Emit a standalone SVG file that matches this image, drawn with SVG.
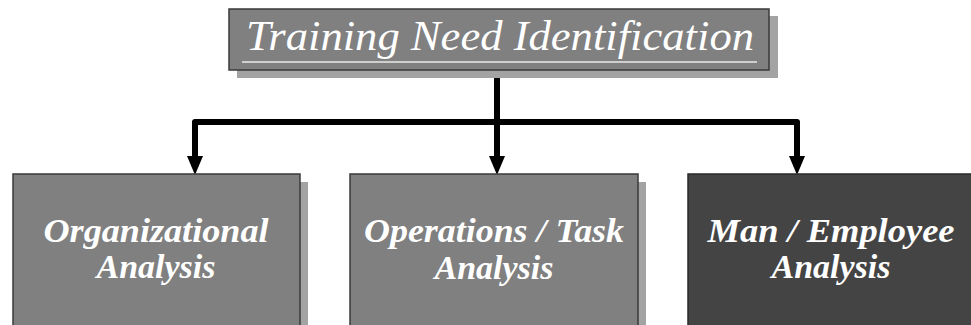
<svg xmlns="http://www.w3.org/2000/svg" width="971" height="325" viewBox="0 0 971 325">
<style>
.shadow{fill:#a3a3a3}
.box{fill:#808080;stroke:#3a3a3a;stroke-width:1.5}
.dark{fill:#444444;stroke:#2a2a2a;stroke-width:1.5}
.lbl{font-style:italic;font-weight:bold;font-size:34px;fill:#ffffff;text-anchor:middle}
.title{font-style:italic;font-size:42px;fill:#ffffff;text-anchor:middle}
.conn{fill:none;stroke:#000;stroke-width:6;stroke-linejoin:round}
.head{fill:#000}
</style>
<rect width="971" height="325" fill="#fff"/>
<g id="connectors">
<path class="conn" d="M497,76 V122"/>
<path class="conn" d="M195,158 V122 H797 V158"/>
<path class="conn" d="M497,122 V158"/>
<polygon class="head" points="187,156 203,156 195,175"/>
<polygon class="head" points="489,156 505,156 497,175"/>
<polygon class="head" points="789,156 805,156 797,175"/>
</g>
<g id="node-tni">
<rect class="shadow" x="237" y="16" width="541" height="62"/>
<rect class="box" x="229" y="9" width="540" height="61"/>
<text class="title" font-family="Liberation Serif, serif" x="500" y="50" textLength="508" lengthAdjust="spacingAndGlyphs">Training Need Identification</text>
<line x1="242" y1="62" x2="757" y2="62" stroke="#e8e8e8" stroke-width="1.5"/>
</g>
<g id="node-org">
<rect class="shadow" x="21" y="182" width="287" height="150"/>
<rect class="box" x="13" y="174" width="287" height="160"/>
<text class="lbl" font-family="Liberation Serif, serif" x="156" y="242" textLength="225" lengthAdjust="spacingAndGlyphs">Organizational</text>
<text class="lbl" font-family="Liberation Serif, serif" x="156" y="278">Analysis</text>
</g>
<g id="node-ops">
<rect class="shadow" x="358" y="182" width="288" height="150"/>
<rect class="box" x="350" y="174" width="288" height="160"/>
<text class="lbl" font-family="Liberation Serif, serif" x="494" y="242" textLength="260" lengthAdjust="spacingAndGlyphs">Operations / Task</text>
<text class="lbl" font-family="Liberation Serif, serif" x="494" y="279">Analysis</text>
</g>
<g id="node-man">
<rect class="dark" x="688" y="174" width="290" height="160"/>
<text class="lbl" font-family="Liberation Serif, serif" x="831" y="242" textLength="247" lengthAdjust="spacingAndGlyphs">Man / Employee</text>
<text class="lbl" font-family="Liberation Serif, serif" x="831" y="278">Analysis</text>
</g>
</svg>
